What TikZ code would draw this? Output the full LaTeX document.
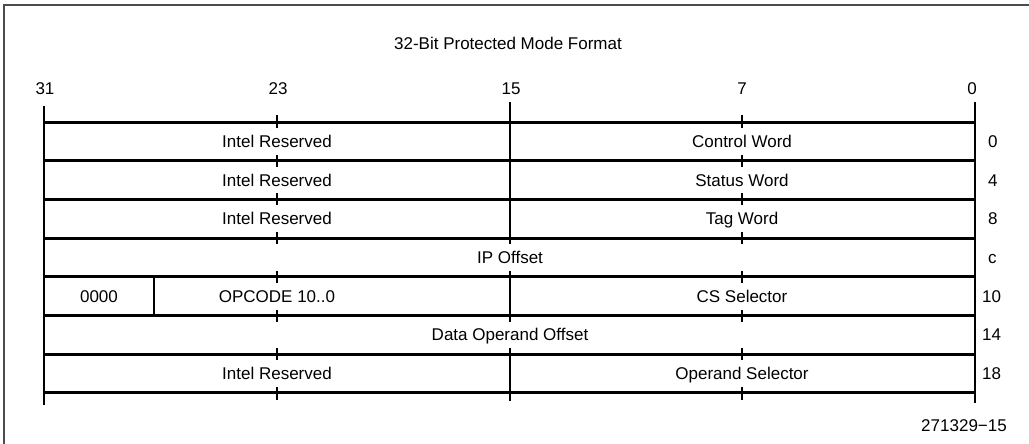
\documentclass[tikz,border=0pt]{standalone}
\usepackage{fontspec}
\setmainfont{Liberation Sans}
\begin{document}
\begin{tikzpicture}[x=1pt,y=-1pt,
  lbl/.style={inner sep=0pt,text height=12pt,text depth=0pt,font=\fontsize{17}{20}\selectfont},
  rowlbl/.style={lbl,anchor=west},
  hline/.style={line width=3pt},
  vline/.style={line width=2.6pt},
  tick/.style={line width=2.6pt},
  frame/.style={line width=1.4pt,draw=black!70}]
\useasboundingbox (0,0) rectangle (1029,444);
% outer frame (top and left)
\draw[frame] (4,444) -- (4,5) -- (1029,5);
% coordinates
\def\xA{44}\def\xB{277}\def\xC{510}\def\xD{742}\def\xE{975}
% title and bit numbers
\node[lbl] (title) at (508,44) {32-Bit Protected Mode Format};
\node[lbl] (b31) at (45,89) {31};
\node[lbl] (b23) at (278,89) {23};
\node[lbl] (b15) at (511,89) {15};
\node[lbl] (b7) at (742,89) {7};
\node[lbl] (b0) at (972,89) {0};
% row lines
\foreach \y in {122,160.7,199.4,238.1,276.8,315.5,354.2,392.9}{
  \draw[hline] (\xA,\y) -- (\xE,\y);
  \foreach \x in {\xB,\xC,\xD}{\draw[tick] (\x,\y-6) -- (\x,\y+6);}
}
% top/bottom tick adjustments
\draw[tick] (\xB,115) -- (\xB,122);
\draw[tick] (\xD,115) -- (\xD,122);
\draw[tick] (\xB,392.9) -- (\xB,400);
\draw[tick] (\xD,392.9) -- (\xD,400);
% outer verticals
\draw[vline] (\xA,106) -- (\xA,405);
\draw[vline] (\xE,102) -- (\xE,403);
% dividers
\draw[vline] (\xC,102) -- (\xC,238.1);
\draw[vline] (\xC,276.8) -- (\xC,315.5);
\draw[vline] (\xC,354.2) -- (\xC,401);
\draw[vline] (154,276.8) -- (154,315.5);
% field texts
\node[lbl] (r0a) at (277,141.5) {Intel Reserved};
\node[lbl] (r0b) at (742,141.5) {Control Word};
\node[lbl] (r4a) at (277,180) {Intel Reserved};
\node[lbl] (r4b) at (742,180) {Status Word};
\node[lbl] (r8a) at (277,218.7) {Intel Reserved};
\node[lbl] (r8b) at (742,218.7) {Tag Word};
\node[lbl] (rc) at (510,257.5) {IP Offset};
\node[lbl] (r10a) at (99,296) {0000};
\node[lbl] (r10b) at (277,296) {OPCODE 10..0};
\node[lbl] (r10c) at (742,296) {CS Selector};
\node[lbl] (r14) at (510,334.8) {Data Operand Offset};
\node[lbl] (r18a) at (277,373.5) {Intel Reserved};
\node[lbl] (r18b) at (742,373.5) {Operand Selector};
% row offsets
\node[rowlbl] (o0) at (988,141.5) {0};
\node[rowlbl] (o4) at (988,180) {4};
\node[rowlbl] (o8) at (988,218.7) {8};
\node[rowlbl] (oc) at (988,257.5) {c};
\node[rowlbl] (o10) at (982,296) {10};
\node[rowlbl] (o14) at (982,334.8) {14};
\node[rowlbl] (o18) at (982,373.5) {18};
% footer
\node[lbl,anchor=east] (foot) at (1007,425) {271329−15};
\end{tikzpicture}
\end{document}
